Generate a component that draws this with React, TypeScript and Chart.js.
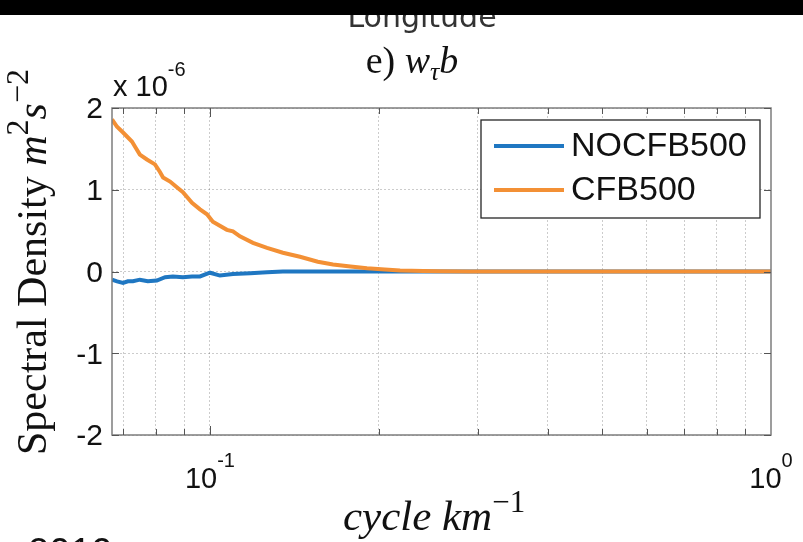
import React, { useEffect, useRef } from "react";
import { Chart, registerables } from "chart.js";

Chart.register(...registerables);

// ---- data (values in units of 1e-6 m^2 s^-2) ----
const cfbFreq = [
  0.0669, 0.0683, 0.07, 0.0726, 0.0735, 0.075, 0.0772, 0.0798, 0.0814, 0.0825,
  0.0849, 0.0873, 0.0895, 0.0929, 0.096, 0.0988, 0.1012, 0.1072, 0.1099, 0.1131,
  0.1193, 0.1264, 0.1349, 0.1447, 0.1557, 0.1657, 0.178, 0.1905, 0.205, 0.2182,
  0.24, 0.257, 0.29, 0.33, 0.4, 0.5, 0.6, 0.7, 0.8, 0.9, 1.0,
];
const cfbValues = [
  1.86, 1.77, 1.7, 1.59, 1.53, 1.43, 1.37, 1.31, 1.22, 1.15,
  1.1, 1.03, 0.97, 0.84, 0.76, 0.7, 0.61, 0.51, 0.49, 0.43,
  0.35, 0.29, 0.23, 0.18, 0.12, 0.085, 0.06, 0.04, 0.025, 0.012,
  0.006, 0.003, 0.001, 0, 0, 0, 0, 0, 0, 0, 0,
];
const nocfbFreq = [
  0.0669, 0.0683, 0.07, 0.0714, 0.0729, 0.075, 0.0775, 0.0804, 0.0832, 0.0859,
  0.0895, 0.0929, 0.096, 0.1, 0.1042, 0.1099, 0.118, 0.1264, 0.1349, 0.15,
  0.17, 0.2, 0.25, 0.3, 0.4, 0.5, 0.6, 0.7, 0.8, 0.9, 1.0,
];
const nocfbValues = [
  -0.1, -0.12, -0.14, -0.12, -0.12, -0.1, -0.12, -0.11, -0.07, -0.06,
  -0.07, -0.06, -0.06, -0.015, -0.05, -0.03, -0.02, -0.01, 0, 0,
  0, 0, 0, 0, 0, 0, 0, 0, 0, 0, 0,
];
const seriesNames = ["NOCFB500", "CFB500"];
const seriesColors = ["#1f77c2", "#f39035"];

const xMin = 0.0669;
const xMax = 1;
const xGridTicks = [0.07, 0.08, 0.09, 0.1, 0.2, 0.3, 0.4, 0.5, 0.6, 0.7, 0.8, 0.9];
const xMajorTicks = [0.1, 1];
const xTickLabels = [["10", "-1"], ["10", "0"]];
const yTicks = [-2, -1, 0, 1, 2];
const yTickLabels = ["-2", "-1", "0", "1", "2"];

const SANS = '"Liberation Sans", Arial, Helvetica, sans-serif';
const SERIF = '"Liberation Serif", "Times New Roman", serif';

type Seg = { t: string; font: string; dy?: number };

function segWidth(ctx: CanvasRenderingContext2D, segs: Seg[]) {
  let w = 0;
  for (const s of segs) {
    ctx.font = s.font;
    w += ctx.measureText(s.t).width;
  }
  return w;
}
function drawSegs(ctx: CanvasRenderingContext2D, segs: Seg[], x: number, y: number) {
  let cx = x;
  for (const s of segs) {
    ctx.font = s.font;
    ctx.fillText(s.t, cx, y + (s.dy || 0));
    cx += ctx.measureText(s.t).width;
  }
}

const decorPlugin = {
  id: "decor",
  beforeDraw(chart: any) {
    const ctx = chart.ctx as CanvasRenderingContext2D;
    ctx.save();
    ctx.fillStyle = "#ffffff";
    ctx.fillRect(0, 0, chart.width, chart.height);
    ctx.restore();
  },
  afterDraw(chart: any) {
    const ctx = chart.ctx as CanvasRenderingContext2D;
    const { left, right, top, bottom } = chart.chartArea;
    const xs = chart.scales.x;
    const ys = chart.scales.y;
    ctx.save();

    // box
    ctx.strokeStyle = "#7d7d7d";
    ctx.lineWidth = 1.5;
    ctx.strokeRect(left, top, right - left, bottom - top);

    // inward ticks
    ctx.strokeStyle = "#555";
    ctx.lineWidth = 1;
    ctx.beginPath();
    for (const v of xGridTicks) {
      const px = Math.round(xs.getPixelForValue(v)) + 0.5;
      const len = xMajorTicks.includes(v) ? 9 : 6;
      ctx.moveTo(px, bottom);
      ctx.lineTo(px, bottom - len);
      ctx.moveTo(px, top);
      ctx.lineTo(px, top + len);
    }
    for (const v of yTicks) {
      const py = Math.round(ys.getPixelForValue(v)) + 0.5;
      ctx.moveTo(left, py);
      ctx.lineTo(left + 7, py);
      ctx.moveTo(right, py);
      ctx.lineTo(right - 7, py);
    }
    ctx.stroke();

    ctx.fillStyle = "#111";
    // y tick labels
    ctx.font = `30px ${SANS}`;
    ctx.textAlign = "right";
    ctx.textBaseline = "middle";
    yTicks.forEach((v, i) => {
      ctx.fillText(yTickLabels[i], left - 9, ys.getPixelForValue(v) + 2);
    });

    // x tick labels
    ctx.textAlign = "left";
    ctx.textBaseline = "alphabetic";
    xMajorTicks.forEach((v, i) => {
      const segs: Seg[] = [
        { t: xTickLabels[i][0], font: `29px ${SANS}` },
        { t: xTickLabels[i][1], font: `20px ${SANS}`, dy: -21 },
      ];
      const w = segWidth(ctx, segs);
      drawSegs(ctx, segs, xs.getPixelForValue(v) - w / 2, 488);
    });

    // exponent label
    drawSegs(ctx, [
      { t: "x 10", font: `29px ${SANS}` },
      { t: "-6", font: `20px ${SANS}`, dy: -20 },
    ], 113, 96);

    // title
    const titleSegs: Seg[] = [
      { t: "e) ", font: `38px ${SERIF}` },
      { t: "w", font: `italic 38px ${SERIF}` },
      { t: "τ", font: `italic 26px ${SERIF}`, dy: 7 },
      { t: "b", font: `italic 38px ${SERIF}` },
    ];
    drawSegs(ctx, titleSegs, 412 - segWidth(ctx, titleSegs) / 2, 73);

    // y label
    ctx.save();
    ctx.translate(46, 455);
    ctx.rotate(-Math.PI / 2);
    drawSegs(ctx, [
      { t: "Spectral Density ", font: `42px ${SERIF}` },
      { t: "m", font: `italic 42px ${SERIF}` },
      { t: "2", font: `32px ${SERIF}`, dy: -18 },
      { t: "s", font: `italic 42px ${SERIF}` },
      { t: "−2", font: `32px ${SERIF}`, dy: -18 },
    ], 0, 0);
    ctx.restore();

    // x label
    drawSegs(ctx, [
      { t: "cycle km", font: `italic 43px ${SERIF}` },
      { t: "−1", font: `31px ${SERIF}`, dy: -18 },
    ], 343, 530);

    // legend
    const lx = 481, ly = 120, lw = 279, lh = 98;
    ctx.fillStyle = "#fff";
    ctx.fillRect(lx, ly, lw, lh);
    ctx.strokeStyle = "#262626";
    ctx.lineWidth = 1.3;
    ctx.strokeRect(lx, ly, lw, lh);
    const rows = [146, 190];
    seriesNames.forEach((name, i) => {
      ctx.strokeStyle = seriesColors[i];
      ctx.lineWidth = 4;
      ctx.beginPath();
      ctx.moveTo(494, rows[i]);
      ctx.lineTo(564, rows[i]);
      ctx.stroke();
      ctx.fillStyle = "#111";
      ctx.font = `34px ${SANS}`;
      ctx.textBaseline = "middle";
      ctx.fillText(name, 571, rows[i] + 1);
    });
    ctx.textBaseline = "alphabetic";

    // cut-off text from neighbouring panels
    ctx.fillStyle = "#333";
    ctx.font = `30px "DejaVu Sans", sans-serif`;
    ctx.textAlign = "center";
    ctx.fillText("Longitude", 422, 27);
    ctx.fillStyle = "#000";
    ctx.fillRect(0, 0, chart.width, 15);
    ctx.textAlign = "left";
    ctx.fillStyle = "#111";
    ctx.font = `38px ${SANS}`;
    ctx.fillText("2019", 28, 565);

    ctx.restore();
  },
};

export default function App() {
  const ref = useRef<HTMLCanvasElement | null>(null);
  useEffect(() => {
    if (!ref.current) return;
    const gridColor = "rgba(0,0,0,0.2)";
    const chart = new Chart(ref.current, {
      type: "line",
      data: {
        datasets: [
          {
            label: seriesNames[0],
            data: nocfbFreq.map((f, i) => ({ x: f, y: nocfbValues[i] })),
            borderColor: seriesColors[0],
            borderWidth: 4,
            pointRadius: 0,
            fill: false,
            order: 2,
          },
          {
            label: seriesNames[1],
            data: cfbFreq.map((f, i) => ({ x: f, y: cfbValues[i] })),
            borderColor: seriesColors[1],
            borderWidth: 4,
            pointRadius: 0,
            fill: false,
            order: 1,
          },
        ],
      },
      options: {
        animation: false,
        responsive: false,
        devicePixelRatio: 1,
        layout: { padding: { left: 112, top: 108, right: 32, bottom: 107 } },
        plugins: { legend: { display: false }, tooltip: { enabled: false } },
        scales: {
          x: {
            type: "logarithmic",
            min: xMin,
            max: xMax,
            ticks: { display: false },
            grid: { color: gridColor, lineWidth: 1, drawTicks: false },
            border: { display: false, dash: [2, 2] },
            afterBuildTicks: (s: any) => {
              s.ticks = xGridTicks.map((v) => ({ value: v }));
            },
            afterFit: (s: any) => {
              s.height = 0;
            },
          },
          y: {
            type: "linear",
            min: -2,
            max: 2,
            ticks: { display: false, stepSize: 1 },
            grid: { color: gridColor, lineWidth: 1, drawTicks: false },
            border: { display: false, dash: [2, 2] },
            afterFit: (s: any) => {
              s.width = 0;
            },
          },
        },
      } as any,
      plugins: [decorPlugin],
    });
    return () => chart.destroy();
  }, []);
  return (
    <div style={{ position: "fixed", left: 0, top: 0, width: 803, height: 542 }}>
      <canvas ref={ref} width={803} height={542} style={{ display: "block" }} />
    </div>
  );
}
